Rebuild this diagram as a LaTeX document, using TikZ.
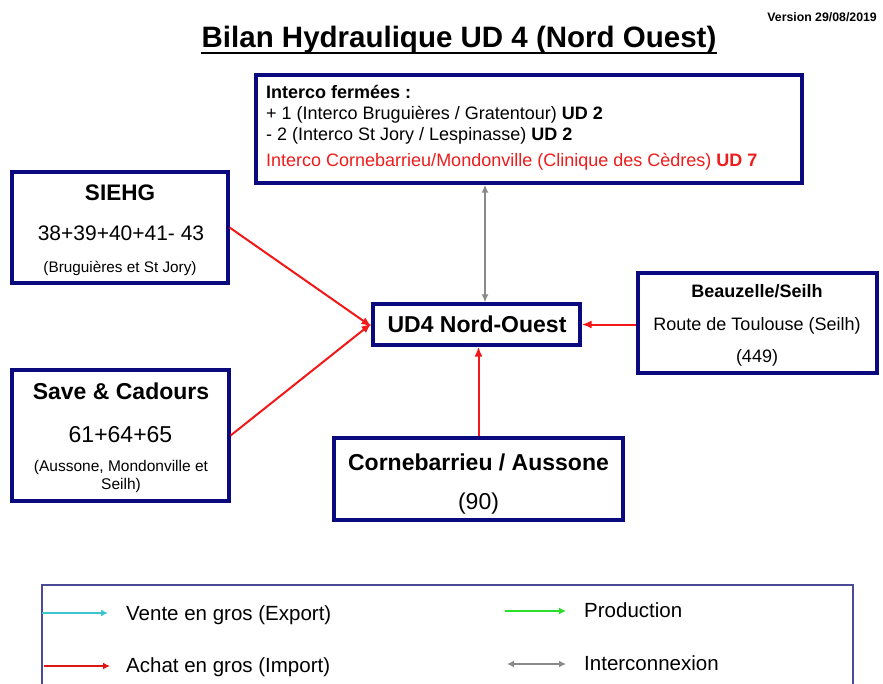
\documentclass[tikz,border=0pt]{standalone}
\usepackage{fontspec}
\setmainfont{Liberation Sans}
\usetikzlibrary{arrows.meta}
\definecolor{navy}{HTML}{0A0A7E}
\definecolor{lgborder}{HTML}{4A4A96}
\definecolor{redarr}{HTML}{F21818}
\definecolor{redtxt}{HTML}{EE1C1C}
\definecolor{greyarr}{HTML}{8A8A8A}
\definecolor{cyanarr}{HTML}{3CC4D0}
\definecolor{greenarr}{HTML}{2ADF2A}
\definecolor{redlg}{HTML}{DD1515}
\tikzset{
  box/.style={draw=navy, line width=3.2pt, fill=white, inner sep=0pt, rectangle},
  txt/.style={inner sep=0pt, anchor=base},
  txtw/.style={inner sep=0pt, anchor=base west},
  imp/.style={draw=redarr, line width=2pt, -{Latex[length=10pt,width=8pt]}},
  ico/.style={draw=greyarr, line width=2pt, {Latex[length=8pt,width=7pt]}-{Latex[length=8pt,width=7pt]}},
  lgarrow/.style={line width=2.4pt, -{Latex[length=7pt,width=7pt]}},
}
\begin{document}
\begin{tikzpicture}[x=1pt,y=-1pt]
\useasboundingbox (0,0) rectangle (883,683);
\fill[white] (0,0) rectangle (883,683);

% title
\node[txt, font=\fontsize{29.5}{32}\selectfont\bfseries] (title) at (459,47.5) {Bilan Hydraulique UD 4 (Nord Ouest)};
\draw[line width=2.5pt] ([yshift=-5.5pt]title.base west) -- ([yshift=-5.5pt]title.base east);
\node[inner sep=0pt, anchor=base east, font=\fontsize{12.3}{14}\selectfont\bfseries] (version) at (877,21.5) {Version 29/08/2019};

% boxes
\node[box, minimum width=546pt, minimum height=108pt] (interco) at (529,129) {};
\node[box, minimum width=216pt, minimum height=111pt] (siehg) at (120,227.5) {};
\node[box, minimum width=217pt, minimum height=131pt] (save) at (120.5,435.5) {};
\node[box, minimum width=207pt, minimum height=41pt] (ud4) at (476.5,324.5) {};
\node[box, minimum width=239pt, minimum height=100pt] (beau) at (757.5,323) {};
\node[box, minimum width=289pt, minimum height=82pt] (corn) at (478.5,479) {};

% interco text
\node[txtw, font=\fontsize{18}{20}\selectfont\bfseries] (i1) at (266,98.4) {Interco fermées :};
\node[txtw, font=\fontsize{18}{20}\selectfont] (i2) at (266,119.4) {+ 1 (Interco Bruguières / Gratentour) \textbf{UD 2}};
\node[txtw, font=\fontsize{18}{20}\selectfont] (i3) at (266,140.4) {- 2 (Interco St Jory / Lespinasse) \textbf{UD 2}};
\node[txtw, font=\fontsize{18}{20}\selectfont, text=redtxt] (i4) at (266,166.4) {Interco Cornebarrieu/Mondonville (Clinique des Cèdres) \textbf{UD 7}};

% SIEHG
\node[txt, font=\fontsize{22.5}{24}\selectfont\bfseries] (s1) at (120,200) {SIEHG};
\node[txt, font=\fontsize{21}{24}\selectfont] (s2) at (121,240.5) {38+39+40+41- 43};
\node[txt, font=\fontsize{15.3}{17}\selectfont] (s3) at (120,272.5) {(Bruguières et St Jory)};

% Save & Cadours
\node[txt, font=\fontsize{23}{25}\selectfont\bfseries] (v1) at (121,399) {Save \& Cadours};
\node[txt, font=\fontsize{23}{25}\selectfont] (v2) at (120.5,442) {61+64+65};
\node[txt, font=\fontsize{15.5}{17}\selectfont] (v3) at (121,471.5) {(Aussone, Mondonville et};
\node[txt, font=\fontsize{15.5}{17}\selectfont] (v4) at (121,489.5) {Seilh)};

% UD4
\node[txt, font=\fontsize{23}{25}\selectfont\bfseries] (u1) at (477,332.2) {UD4 Nord-Ouest};

% Beauzelle
\node[txt, font=\fontsize{18}{20}\selectfont\bfseries] (b1) at (757,297.4) {Beauzelle/Seilh};
\node[txt, font=\fontsize{18}{20}\selectfont] (b2) at (757,330.4) {Route de Toulouse (Seilh)};
\node[txt, font=\fontsize{18}{20}\selectfont] (b3) at (757,362.4) {(449)};

% Cornebarrieu
\node[txt, font=\fontsize{23}{25}\selectfont\bfseries] (c1) at (478.5,470.2) {Cornebarrieu / Aussone};
\node[txt, font=\fontsize{23}{25}\selectfont] (c2) at (478.5,509.2) {(90)};

% connectors
\draw[ico] ([xshift=8.5pt]ud4.north |- interco.south) -- ([xshift=8.5pt]ud4.north);
\draw[imp] (siehg.east) -- ([yshift=-2pt]ud4.west);
\draw[imp] (save.east) -- ([yshift=1pt]ud4.west);
\draw[imp] (beau.west |- ud4.east) -- (ud4.east);
\draw[imp] (corn.north) -- (corn.north |- ud4.south);

% legend
\node[draw=lgborder, line width=1.8pt, inner sep=0pt, minimum width=811pt, minimum height=120pt] (legend) at (447.5,645) {};
\coordinate (la1) at (42,613); \coordinate (la2) at (108,613);
\coordinate (lb1) at (44,666); \coordinate (lb2) at (110,666);
\coordinate (lc1) at (505,611); \coordinate (lc2) at (566,611);
\coordinate (ld1) at (507,664); \coordinate (ld2) at (566,664);
\draw[lgarrow, draw=cyanarr] (la1) -- (la2);
\draw[lgarrow, draw=redlg] (lb1) -- (lb2);
\draw[lgarrow, draw=greenarr] (lc1) -- (lc2);
\draw[line width=2.4pt, draw=greyarr, {Latex[length=7pt,width=7pt]}-{Latex[length=7pt,width=7pt]}] (ld1) -- (ld2);
\node[txtw, font=\fontsize{20.5}{22}\selectfont] (l1) at (126,620.3) {Vente en gros (Export)};
\node[txtw, font=\fontsize{20.5}{22}\selectfont] (l2) at (126,672.3) {Achat en gros (Import)};
\node[txtw, font=\fontsize{20.5}{22}\selectfont] (l3) at (584,617.3) {Production};
\node[txtw, font=\fontsize{20.5}{22}\selectfont] (l4) at (584,670.3) {Interconnexion};
\end{tikzpicture}
\end{document}
